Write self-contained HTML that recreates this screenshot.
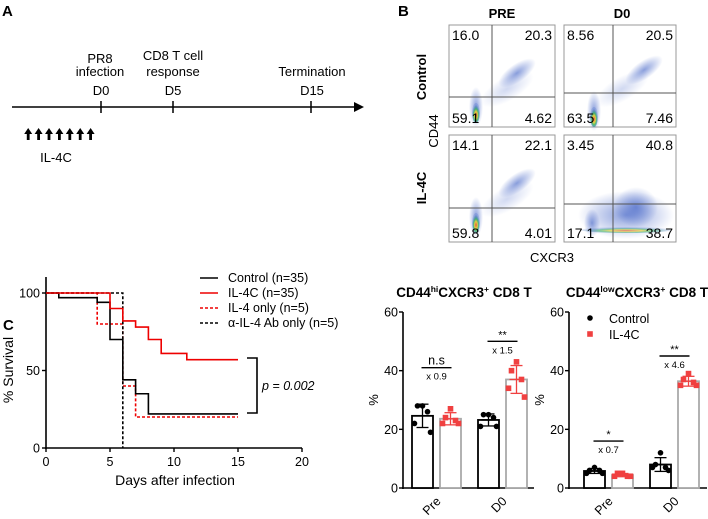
<!DOCTYPE html>
<html><head><meta charset="utf-8"><style>
html,body{margin:0;padding:0;background:#fff;}
svg{display:block;font-family:"Liberation Sans",Arial,sans-serif;}
</style></head><body>
<svg id="fig" width="708" height="519" viewBox="0 0 708 519" xmlns="http://www.w3.org/2000/svg">
<defs>
<radialGradient id="cl" cx="50%" cy="50%" r="50%"><stop offset="0" stop-color="#2a4fbf" stop-opacity="0.55"/><stop offset="1" stop-color="#2a4fbf" stop-opacity="0"/></radialGradient>
<radialGradient id="core" cx="50%" cy="60%" r="50%"><stop offset="0" stop-color="#e8402a"/><stop offset="0.35" stop-color="#f0d020"/><stop offset="0.6" stop-color="#30b060"/><stop offset="1" stop-color="#2050c0" stop-opacity="0.2"/></radialGradient>
</defs>
<g>
<text x="2" y="16" font-size="15" font-weight="bold">A</text>
<line x1="12" y1="107" x2="356" y2="107" stroke="#000" stroke-width="1.5"/>
<polygon points="354,102 364,107 354,112" fill="#000"/>
<line x1="101" y1="101" x2="101" y2="113" stroke="#000" stroke-width="1.5"/>
<line x1="173" y1="101" x2="173" y2="113" stroke="#000" stroke-width="1.5"/>
<line x1="311" y1="101" x2="311" y2="113" stroke="#000" stroke-width="1.5"/>
<g font-size="13" text-anchor="middle">
<text x="100" y="63">PR8</text><text x="100" y="76">infection</text><text x="101" y="95">D0</text>
<text x="173" y="60">CD8 T cell</text><text x="173" y="76">response</text><text x="173" y="95">D5</text>
<text x="312" y="76">Termination</text><text x="312" y="95">D15</text>
<text x="56" y="162">IL-4C</text>
</g>
<g id="arrows"></g>
</g>
<g id="panelB">
<text x="398" y="16" font-size="15" font-weight="bold">B</text>
<text x="502" y="18" font-size="13" font-weight="bold" text-anchor="middle">PRE</text>
<text x="622" y="18" font-size="13" font-weight="bold" text-anchor="middle">D0</text>
<text transform="translate(426,77) rotate(-90)" font-size="13" font-weight="bold" text-anchor="middle">Control</text>
<text transform="translate(426,188) rotate(-90)" font-size="13" font-weight="bold" text-anchor="middle">IL-4C</text>
<text transform="translate(438,131) rotate(-90)" font-size="13" text-anchor="middle">CD44</text>
<text x="552" y="262" font-size="13" text-anchor="middle">CXCR3</text>
</g>
<g id="surv">
<text x="3" y="330" font-size="15" font-weight="bold">C</text>
<text transform="translate(13,370) rotate(-90)" font-size="14" text-anchor="middle">% Survival</text>
<text x="175" y="485" font-size="14" text-anchor="middle">Days after infection</text>
<g font-size="12.5">
<line x1="200" y1="278" x2="218" y2="278" stroke="#000" stroke-width="1.6"/><text x="228" y="282">Control (n=35)</text>
<line x1="200" y1="293" x2="218" y2="293" stroke="#e00" stroke-width="1.6"/><text x="228" y="297">IL-4C (n=35)</text>
<line x1="200" y1="308" x2="218" y2="308" stroke="#e00" stroke-width="1.6" stroke-dasharray="3,2"/><text x="228" y="312">IL-4 only (n=5)</text>
<line x1="200" y1="323" x2="218" y2="323" stroke="#000" stroke-width="1.6" stroke-dasharray="3,2"/><text x="228" y="327">α-IL-4 Ab only (n=5)</text>
</g>
<path d="M247,358 H257 V413 H247" fill="none" stroke="#000" stroke-width="1.6"/>
<text x="262" y="390" font-size="12.5" font-style="italic">p = 0.002</text>
</g>
<g id="bars"></g>
</svg>
<script>
// ---- Panel A data
const injectionDays = [-7,-6,-5,-4,-3,-2,-1];
// ---- Panel B data
const quadPRE_C = ["16.0","20.3","59.1","4.62"];
const quadD0_C  = ["8.56","20.5","63.5","7.46"];
const quadPRE_I = ["14.1","22.1","59.8","4.01"];
const quadD0_I  = ["3.45","40.8","17.1","38.7"];
// ---- Survival data (days, % survival)
const ctrlDays = [0,1,4,5,6,7,8,15];
const ctrlSurv = [100,97,94,70,44,35,22,22];
const il4cDays = [0,5,6,7,8,9,11,15];
const il4cSurv = [100,90,82,78,70,61,57,57];
const il4Days = [0,4,6,7,15];
const il4Surv = [100,80,40,20,20];
const abDays = [0,6,6];
const abSurv = [100,100,0];
const survXTicks = [0,5,10,15,20];
const survYTicks = [0,50,100];
// ---- Bar chart data
const barGroups = ["Pre","D0"];
const hiCtrl = [[28,28,26,22,19],[25,25,24,21,21]];
const hiIl4c = [[27,24,23,22,22],[43,40,37,34,31]];
const lowCtrl = [[7,6,6,5,5],[12,8,7,7,6]];
const lowIl4c = [[5,5,4,4,4],[39,37,36,35,35]];
const hiSig = [["n.s","x 0.9",41],["**","x 1.5",50]];
const lowSig = [["*","x 0.7",16],["**","x 4.6",45]];
const barYTicks = [0,20,40,60];

const NS="http://www.w3.org/2000/svg";
function mk(tag,attrs,parent){const e=document.createElementNS(NS,tag);for(const k in attrs)e.setAttribute(k,attrs[k]);parent.appendChild(e);return e;}

const ag=document.getElementById('arrows');
injectionDays.forEach(d=>{
  const x=101+d*10.4;
  const a=mk('path',{d:`M${x},128 l-4,6 h2.6 v6 h2.8 v-6 h2.6 z`,fill:'#000'},ag);
  
  
});

const pb=document.getElementById('panelB');
const plots=[
 {x:449,y:25,w:106,h:102,vx:492,hy:97,q:quadPRE_C,kind:0},
 {x:564,y:25,w:112,h:102,vx:613,hy:93,q:quadD0_C,kind:1},
 {x:449,y:135,w:106,h:107,vx:492,hy:208,q:quadPRE_I,kind:0},
 {x:564,y:135,w:112,h:107,vx:613,hy:204,q:quadD0_I,kind:2}];
plots.forEach((p,i)=>{
  const g=mk('g',{},pb);
  
  
  mk('rect',{x:p.x,y:p.y,width:p.w,height:p.h,fill:'#fff',stroke:'#999','stroke-width':1},g);
  if(p.kind===2){
    mk('ellipse',{cx:p.x+62,cy:p.y+80,rx:48,ry:24,fill:'url(#cl)'},g);
    mk('ellipse',{cx:p.x+72,cy:p.y+72,rx:22,ry:20,fill:'url(#cl)'},g);
    mk('ellipse',{cx:p.x+62,cy:p.y+95,rx:45,ry:3,fill:'url(#core)',opacity:0.6},g);
    mk('ellipse',{cx:p.x+28,cy:p.y+88,rx:8,ry:14,fill:'url(#cl)'},g);
  } else {
    const cx1=p.x+(p.kind?80:68), cy1=p.y+(p.kind?45:48);
    mk('ellipse',{cx:cx1,cy:cy1,rx:22,ry:9,fill:'url(#cl)',transform:`rotate(-35 ${cx1} ${cy1})`},g);
    mk('ellipse',{cx:p.x+58,cy:p.y+64,rx:30,ry:12,fill:'url(#cl)',opacity:0.4,transform:`rotate(-30 ${p.x+58} ${p.y+64})`},g);
    mk('ellipse',{cx:p.x+(p.kind?30:27),cy:p.y+(p.kind?86:82),rx:7,ry:20,fill:'url(#cl)'},g);
    mk('ellipse',{cx:p.x+(p.kind?30:27),cy:p.y+(p.kind?92:88),rx:4,ry:10,fill:'url(#core)',opacity:0.85},g);
  }
  mk('line',{x1:p.vx,y1:p.y,x2:p.vx,y2:p.y+p.h,stroke:'#555','stroke-width':1},g);
  mk('line',{x1:p.x,y1:p.hy,x2:p.x+p.w,y2:p.hy,stroke:'#555','stroke-width':1},g);
  const t=[[p.x+3,p.y+15,'start',p.q[0]],[p.x+p.w-3,p.y+15,'end',p.q[1]],[p.x+3,p.y+p.h-4,'start',p.q[2]],[p.x+p.w-3,p.y+p.h-4,'end',p.q[3]]];
  t.forEach(s=>{const e=mk('text',{x:s[0],y:s[1],'text-anchor':s[2],'font-size':14},g);e.textContent=s[3];
    
    });
});

const sg=document.getElementById('surv');
const sx=d=>46+d*12.8, sy=v=>448-v*1.55;
mk('line',{x1:46,y1:277,x2:46,y2:449,stroke:'#000','stroke-width':1.6},sg);
mk('line',{x1:45,y1:448,x2:302,y2:448,stroke:'#000','stroke-width':1.6},sg);
survXTicks.forEach(t=>{mk('line',{x1:sx(t),y1:448,x2:sx(t),y2:452,stroke:'#000','stroke-width':1.4},sg);
  const e=mk('text',{x:sx(t),y:466,'font-size':12.5,'text-anchor':'middle'},sg);e.textContent=t;});
survYTicks.forEach(t=>{mk('line',{x1:42,y1:sy(t),x2:46,y2:sy(t),stroke:'#000','stroke-width':1.4},sg);
  const e=mk('text',{x:40,y:sy(t)+4.5,'font-size':12.5,'text-anchor':'end'},sg);e.textContent=t;});
function step(days,vals,color,dash,name){
  let d=`M${sx(days[0])},${sy(vals[0])}`;
  for(let i=1;i<days.length;i++){d+=` H${sx(days[i])} V${sy(vals[i])}`;}
  const e=mk('path',{d:d,fill:'none',stroke:color,'stroke-width':1.6},sg);
  if(dash)e.setAttribute('stroke-dasharray','3,2');
  
  
}
step(il4Days,il4Surv,'#e00',true,'il4-only-curve');
step(abDays,abSurv,'#000',true,'anti-il4-curve');
step(ctrlDays,ctrlSurv,'#000',false,'control-curve');
step(il4cDays,il4cSurv,'#e00',false,'il4c-curve');

const bg=document.getElementById('bars');
function barChart(ax,x1,sup,ctrl,il4c,sig,bx,withLegend,name,tcx){
  const g=mk('g',{},bg);
  
  
  const y=v=>488-v*(176/60);
  const tt=mk('text',{x:tcx,y:297,'font-size':13.5,'font-weight':'bold','text-anchor':'middle'},g);
  const parts=[['CD44',0,null],[sup,-5,8.5],['CXCR3',5,null],['+',-5,8.5],[' CD8 T',5,null]];
  parts.forEach(pt=>{const s=mk('tspan',{dy:pt[1]},tt);if(pt[2])s.setAttribute('font-size',pt[2]);s.textContent=pt[0];});
  mk('line',{x1:ax,y1:312,x2:ax,y2:489,stroke:'#000','stroke-width':1.6},g);
  mk('line',{x1:ax-1,y1:488,x2:x1,y2:488,stroke:'#000','stroke-width':1.6},g);
  barYTicks.forEach(t=>{mk('line',{x1:ax-4,y1:y(t),x2:ax,y2:y(t),stroke:'#000','stroke-width':1.4},g);
    const e=mk('text',{x:ax-5,y:y(t)+4.5,'font-size':12.5,'text-anchor':'end'},g);e.textContent=t;});
  const yl=mk('text',{transform:`translate(${ax-25},400) rotate(-90)`,'font-size':13,'text-anchor':'middle'},g);yl.textContent='%';
  barGroups.forEach((grp,gi)=>{
    [[ctrl[gi],'#000'],[il4c[gi],'#aaa']].forEach((s,si)=>{
      const vals=s[0];const m=vals.reduce((a,b)=>a+b,0)/vals.length;
      const sd=Math.sqrt(vals.reduce((a,b)=>a+(b-m)*(b-m),0)/(vals.length-1));
      const l=bx[gi*2+si],w=21,c=l+w/2;
      const r=mk('rect',{x:l,y:y(m),width:w,height:488-y(m),fill:'#fff',stroke:s[1],'stroke-width':1.8},g);
      
      
      const ec=si?'#f04040':'#000';
      mk('line',{x1:c,y1:y(m+sd),x2:c,y2:y(m-sd),stroke:ec,'stroke-width':1.3},g);
      mk('line',{x1:c-6,y1:y(m+sd),x2:c+6,y2:y(m+sd),stroke:ec,'stroke-width':1.3},g);
      mk('line',{x1:c-6,y1:y(m-sd),x2:c+6,y2:y(m-sd),stroke:ec,'stroke-width':1.3},g);
      mk('line',{x1:c-7,y1:y(m),x2:c+7,y2:y(m),stroke:ec,'stroke-width':1.3},g);
      const offs=[0,-5,5,-8,8];
      vals.forEach((v,vi)=>{
        let pt;
        if(si===0) pt=mk('circle',{cx:c+offs[vi],cy:y(v),r:2.8,fill:'#000'},g);
        else pt=mk('rect',{x:c+offs[vi]-2.8,y:y(v)-2.8,width:5.6,height:5.6,fill:'#f04040'},g);
        
        
      });
    });
    const cx=(bx[gi*2]+bx[gi*2+1]+21)/2;
    const sy2=y(sig[gi][2]);
    mk('line',{x1:cx-15,y1:sy2,x2:cx+15,y2:sy2,stroke:'#000','stroke-width':1.4},g);
    const st=mk('text',{x:cx,y:sy2-3,'font-size':sig[gi][0]==='n.s'?12.5:11,'text-anchor':'middle'},g);st.textContent=sig[gi][0];
    const ft=mk('text',{x:cx,y:sy2+12,'font-size':9.5,'text-anchor':'middle'},g);ft.textContent=sig[gi][1];
    const cl=mk('text',{transform:`translate(${cx+5},502) rotate(-45)`,'font-size':12.5,'text-anchor':'end'},g);cl.textContent=grp;
    
    
  });
  if(withLegend){
    mk('circle',{cx:590,cy:318,r:2.8,fill:'#000'},g);
    const a=mk('text',{x:609,y:323,'font-size':12.5},g);a.textContent='Control';
    mk('rect',{x:587.2,y:331.2,width:5.6,height:5.6,fill:'#f04040'},g);
    const b=mk('text',{x:609,y:339,'font-size':12.5},g);b.textContent='IL-4C';
  }
}
barChart(403,534,'hi',hiCtrl,hiIl4c,hiSig,[412,440,478,506],false,'cd44hi-bar-chart',464);
barChart(569,707,'low',lowCtrl,lowIl4c,lowSig,[584,612,650,678],true,'cd44low-bar-chart',637);
</script>
</body></html>
